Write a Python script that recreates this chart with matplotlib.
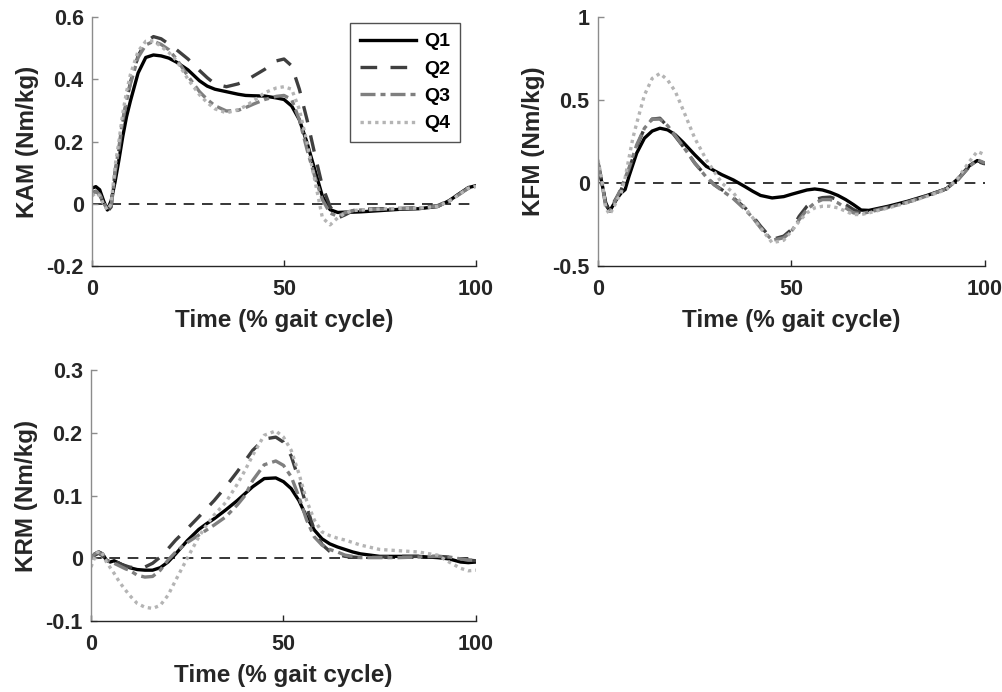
import matplotlib.pyplot as plt
import numpy as np

plt.rcParams['font.family'] = ['Liberation Sans', 'DejaVu Sans']
plt.rcParams['font.weight'] = 'bold'

# % of gait cycle
gait_pct = [0, 1, 2, 3, 4, 5, 6, 7, 8, 9, 10, 12, 14, 16, 18, 20, 22, 25, 28, 30,
            32, 35, 38, 40, 42, 45, 48, 50, 52, 54, 56, 58, 60, 62, 64, 66, 68, 70,
            75, 80, 85, 90, 93, 96, 98, 100]

groups = ['Q1', 'Q2', 'Q3', 'Q4']

# knee adduction moment (Nm/kg)
kam_q1 = [0.050, 0.055, 0.045, 0.010, -0.020, 0.010, 0.070, 0.140, 0.215, 0.280, 0.330,
          0.420, 0.470, 0.478, 0.475, 0.468, 0.455, 0.430, 0.395, 0.378, 0.368, 0.360,
          0.352, 0.348, 0.347, 0.346, 0.340, 0.335, 0.314, 0.270, 0.196, 0.110, 0.024,
          -0.019, -0.028, -0.027, -0.027, -0.026, -0.022, -0.018, -0.016, -0.009, 0.010,
          0.035, 0.052, 0.058]
kam_q2 = [0.035, 0.040, 0.030, 0.000, -0.025, -0.010, 0.100, 0.170, 0.260, 0.330, 0.390,
          0.475, 0.520, 0.537, 0.530, 0.513, 0.495, 0.465, 0.428, 0.405, 0.385, 0.376,
          0.385, 0.395, 0.410, 0.432, 0.459, 0.465, 0.443, 0.368, 0.270, 0.160, 0.056,
          -0.009, -0.046, -0.035, -0.022, -0.018, -0.016, -0.015, -0.013, -0.006, 0.010,
          0.035, 0.050, 0.058]
kam_q3 = [0.030, 0.040, 0.030, 0.005, -0.020, -0.005, 0.100, 0.180, 0.270, 0.330, 0.385,
          0.470, 0.510, 0.522, 0.512, 0.495, 0.465, 0.410, 0.360, 0.335, 0.315, 0.298,
          0.300, 0.309, 0.320, 0.335, 0.345, 0.348, 0.335, 0.270, 0.174, 0.088, 0.013,
          -0.030, -0.040, -0.028, -0.022, -0.020, -0.018, -0.016, -0.015, -0.008, 0.008,
          0.033, 0.050, 0.056]
kam_q4 = [0.025, 0.035, 0.025, 0.000, -0.020, 0.000, 0.120, 0.200, 0.290, 0.360, 0.415,
          0.490, 0.522, 0.523, 0.505, 0.486, 0.460, 0.400, 0.350, 0.325, 0.305, 0.292,
          0.302, 0.314, 0.330, 0.357, 0.372, 0.376, 0.368, 0.303, 0.196, 0.077, -0.045,
          -0.068, -0.045, -0.030, -0.022, -0.020, -0.017, -0.015, -0.014, -0.008, 0.008,
          0.033, 0.050, 0.056]

# knee flexion moment (Nm/kg)
kfm_q1 = [0.120, 0.000, -0.120, -0.170, -0.130, -0.090, -0.060, -0.040, 0.040, 0.110, 0.180,
          0.270, 0.313, 0.330, 0.320, 0.290, 0.245, 0.170, 0.100, 0.075, 0.050, 0.018,
          -0.022, -0.050, -0.075, -0.090, -0.082, -0.068, -0.055, -0.042, -0.036, -0.042,
          -0.056, -0.075, -0.100, -0.130, -0.163, -0.165, -0.140, -0.110, -0.075, -0.035,
          0.025, 0.105, 0.135, 0.118]
kfm_q2 = [0.120, 0.000, -0.130, -0.170, -0.120, -0.080, -0.040, 0.020, 0.080, 0.150, 0.220,
          0.330, 0.385, 0.390, 0.340, 0.280, 0.220, 0.120, 0.040, -0.010, -0.040, -0.090,
          -0.150, -0.200, -0.260, -0.340, -0.320, -0.280, -0.200, -0.140, -0.100, -0.088,
          -0.085, -0.100, -0.130, -0.160, -0.180, -0.170, -0.145, -0.115, -0.078, -0.035,
          0.020, 0.100, 0.130, 0.115]
kfm_q3 = [0.130, 0.000, -0.140, -0.170, -0.130, -0.080, -0.030, 0.030, 0.090, 0.160, 0.230,
          0.330, 0.385, 0.385, 0.345, 0.285, 0.220, 0.120, 0.035, -0.010, -0.045, -0.095,
          -0.160, -0.210, -0.270, -0.345, -0.330, -0.290, -0.220, -0.160, -0.120, -0.100,
          -0.100, -0.120, -0.150, -0.180, -0.185, -0.175, -0.148, -0.115, -0.078, -0.035,
          0.020, 0.100, 0.140, 0.120]
kfm_q4 = [0.140, 0.020, -0.150, -0.190, -0.150, -0.100, -0.060, 0.030, 0.150, 0.270, 0.360,
          0.530, 0.630, 0.660, 0.620, 0.550, 0.440, 0.270, 0.140, 0.070, 0.000, -0.060,
          -0.150, -0.210, -0.270, -0.360, -0.345, -0.290, -0.230, -0.180, -0.150, -0.140,
          -0.140, -0.150, -0.170, -0.190, -0.190, -0.180, -0.150, -0.118, -0.080, -0.040,
          0.030, 0.130, 0.190, 0.170]

# knee rotation moment (Nm/kg)
krm_q1 = [0.000, 0.007, 0.010, 0.007, -0.003, -0.006, -0.004, -0.007, -0.010, -0.013, -0.015,
          -0.018, -0.019, -0.019, -0.015, -0.006, 0.007, 0.028, 0.046, 0.055, 0.063, 0.077,
          0.092, 0.103, 0.114, 0.127, 0.128, 0.122, 0.111, 0.092, 0.066, 0.045, 0.031,
          0.023, 0.018, 0.014, 0.010, 0.007, 0.003, 0.003, 0.003, 0.001, -0.001, -0.006,
          -0.007, -0.006]
krm_q2 = [0.000, 0.005, 0.008, 0.004, -0.003, -0.005, -0.005, -0.007, -0.010, -0.012, -0.014,
          -0.016, -0.014, -0.008, 0.002, 0.015, 0.029, 0.047, 0.066, 0.079, 0.092, 0.114,
          0.138, 0.155, 0.172, 0.190, 0.193, 0.185, 0.163, 0.125, 0.082, 0.045, 0.022,
          0.011, 0.006, 0.003, 0.002, 0.001, 0.002, 0.003, 0.003, 0.003, 0.002, -0.001,
          -0.003, -0.004]
krm_q3 = [0.000, 0.007, 0.010, 0.005, -0.003, -0.006, -0.008, -0.011, -0.014, -0.017, -0.019,
          -0.027, -0.030, -0.029, -0.019, -0.003, 0.010, 0.025, 0.037, 0.045, 0.053, 0.066,
          0.085, 0.100, 0.124, 0.149, 0.155, 0.148, 0.130, 0.098, 0.061, 0.034, 0.021,
          0.014, 0.010, 0.005, 0.003, 0.001, 0.001, 0.001, 0.002, 0.003, 0.002, -0.001,
          -0.003, -0.003]
krm_q4 = [-0.014, 0.002, 0.012, 0.007, -0.006, -0.015, -0.024, -0.034, -0.043, -0.051, -0.059,
          -0.072, -0.078, -0.080, -0.075, -0.059, -0.035, 0.000, 0.034, 0.053, 0.069, 0.089,
          0.118, 0.140, 0.164, 0.196, 0.203, 0.193, 0.172, 0.135, 0.092, 0.061, 0.042,
          0.036, 0.032, 0.029, 0.025, 0.021, 0.014, 0.012, 0.010, 0.005, -0.006, -0.016,
          -0.020, -0.019]

styles = [
    dict(color='black', ls='-', lw=2.4),
    dict(color='#3f3f3f', ls=(0, (5, 4)), lw=2.4),
    dict(color='#7f7f7f', ls=(0, (4.5, 1.5, 1.5, 1.5)), lw=2.4),
    dict(color='#b4b4b4', ls=(0, (1, 1.2)), lw=2.4),
]


def draw_panel(ax, series, ylabel, ylim, yticks, yticklabels):
    x = np.array(gait_pct)
    ax.axhline(0, color='black', ls=(0, (7, 5)), lw=1.1, zorder=1)
    for name, vals, st in zip(groups, series, styles):
        ax.plot(x, vals, label=name, zorder=2, **st)
    ax.set_xlim(0, 100)
    ax.set_ylim(*ylim)
    ax.set_xticks([0, 50, 100])
    ax.set_yticks(yticks)
    ax.set_yticklabels(yticklabels)
    ax.set_xlabel('Time (% gait cycle)', fontsize=17.5, fontweight='bold', color='#262626', labelpad=7)
    ax.set_ylabel(ylabel, fontsize=17.5, fontweight='bold', color='#262626', labelpad=5)
    for side in ['top', 'right']:
        ax.spines[side].set_visible(False)
    ax.spines['bottom'].set_color('#262626')
    ax.spines['left'].set_color('#8c8c8c')
    ax.spines['bottom'].set_linewidth(1.0)
    ax.spines['left'].set_linewidth(1.0)
    ax.tick_params(direction='in', length=4, width=1.0, labelsize=15.5, colors='#262626')
    ax.tick_params(axis='y', color='#8c8c8c', pad=6)
    ax.tick_params(axis='x', pad=9)
    for lab in ax.get_xticklabels() + ax.get_yticklabels():
        lab.set_fontweight('bold')


fig = plt.figure(figsize=(10.03, 6.92), dpi=100)
W, H = 1003, 692

ax1 = fig.add_axes([92 / W, 1 - 266 / H, 384 / W, 249 / H])
ax2 = fig.add_axes([598 / W, 1 - 266 / H, 387 / W, 249 / H])
ax3 = fig.add_axes([91 / W, 1 - 621 / H, 385 / W, 251 / H])

draw_panel(ax1, [kam_q1, kam_q2, kam_q3, kam_q4], 'KAM (Nm/kg)',
           (-0.2, 0.6), [-0.2, 0, 0.2, 0.4, 0.6], ['-0.2', '0', '0.2', '0.4', '0.6'])
draw_panel(ax2, [kfm_q1, kfm_q2, kfm_q3, kfm_q4], 'KFM (Nm/kg)',
           (-0.5, 1), [-0.5, 0, 0.5, 1], ['-0.5', '0', '0.5', '1'])
draw_panel(ax3, [krm_q1, krm_q2, krm_q3, krm_q4], 'KRM (Nm/kg)',
           (-0.1, 0.3), [-0.1, 0, 0.1, 0.2, 0.3], ['-0.1', '0', '0.1', '0.2', '0.3'])

leg = ax1.legend(loc='upper right', bbox_to_anchor=(0.958, 0.976), fontsize=14,
                 frameon=True, fancybox=False, edgecolor='#262626', handlelength=2.9,
                 handletextpad=0.4, labelspacing=0.5, borderpad=0.5, borderaxespad=0)
leg.get_frame().set_linewidth(1.0)
for t in leg.get_texts():
    t.set_fontweight('bold')

fig.savefig('out.png', dpi=100)
